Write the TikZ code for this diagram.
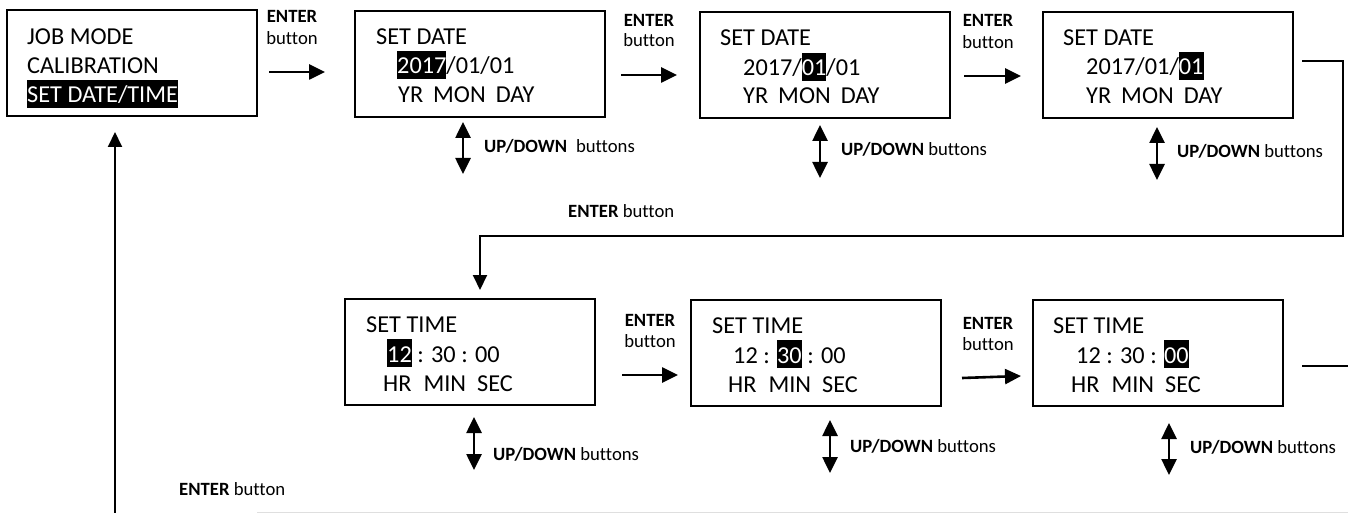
\documentclass[tikz,border=0pt]{standalone}
\usepackage{fontspec}
\setmainfont{Carlito}[Ligatures={NoCommon}]
\usetikzlibrary{arrows.meta}
\newcommand\hlbox[1]{{\setlength\fboxsep{0pt}\colorbox{black}{\textcolor{white}{\rule[-5pt]{0pt}{28pt}#1}}}}
\begin{document}
\begin{tikzpicture}[x=1pt,y=-1pt,
  box/.style={draw, line width=1.8pt, minimum width=250pt, minimum height=106pt, inner sep=0pt},
  lcd/.style={anchor=base west, inner sep=0pt, font=\fontsize{24.3}{28}\selectfont},
  lbl/.style={anchor=base, inner sep=0pt, font=\fontsize{18.7}{21}\selectfont},
  lbll/.style={lbl, anchor=base west},
  arr/.style={line width=2.6pt, -{Triangle[length=16pt,width=15pt]}},
  updown/.style={line width=2.6pt, {Triangle[length=16pt,width=15pt]}-{Triangle[length=16pt,width=15pt]}},
  conn/.style={line width=2pt},
  connarr/.style={line width=2pt, -{Triangle[length=15pt,width=14pt]}}]
\useasboundingbox (0,0) rectangle (1348,513);
% faint bottom line
\draw[gray!25, line width=1pt] (257,512) -- (1348,512);
% boxes
\node[box] (b0) at (132,63) {};
\node[box] (b1) at (480,64) {};
\node[box] (b2) at (825,65) {};
\node[box] (b3) at (1168,65) {};
\node[box] (b4) at (470,352) {};
\node[box] (b5) at (816,353) {};
\node[box] (b6) at (1158,353) {};
% box texts
\node[lcd] (t0a) at (27,45) {JOB MODE};
\node[lcd] (t0b) at (27,74) {CALIBRATION};
\node[lcd] (t0c) at (27,103) {\hlbox{SET DATE/TIME}};
\node[lcd] (t1a) at (376,45) {SET DATE};
\node[lcd] (t1b) at (397,74) {\hlbox{2017}/01/01};
\node[lcd] (t1c) at (398,103) {YR\hspace{10pt}MON\hspace{10pt}DAY};
\node[lcd] (t2a) at (720,46) {SET DATE};
\node[lcd] (t2b) at (743,76) {2017/\hlbox{01}/01};
\node[lcd] (t2c) at (743,104) {YR\hspace{10pt}MON\hspace{10pt}DAY};
\node[lcd] (t3a) at (1063,46) {SET DATE};
\node[lcd] (t3b) at (1086,75) {2017/01/\hlbox{01}};
\node[lcd] (t3c) at (1086,104) {YR\hspace{10pt}MON\hspace{10pt}DAY};
\node[lcd] (t4a) at (366,332) {SET TIME};
\node[lcd] (t4b) at (387,362) {\hlbox{12} : 30 : 00};
\node[lcd] (t4c) at (383,391) {HR\hspace{12pt}MIN\hspace{11pt}SEC};
\node[lcd] (t5a) at (712,333) {SET TIME};
\node[lcd] (t5b) at (733,363) {12 : \hlbox{30} : 00};
\node[lcd] (t5c) at (728,392) {HR\hspace{12pt}MIN\hspace{11pt}SEC};
\node[lcd] (t6a) at (1053,333) {SET TIME};
\node[lcd] (t6b) at (1076,363) {12 : 30 : \hlbox{00}};
\node[lcd] (t6c) at (1071,392) {HR\hspace{12pt}MIN\hspace{11pt}SEC};
% ENTER labels
\node[lbl] (e1a) at (292,23) {\textbf{ENTER}};
\node[lbl] (e1b) at (292,45) {button};
\node[lbl] (e2a) at (649,27) {\textbf{ENTER}};
\node[lbl] (e2b) at (649,47) {button};
\node[lbl] (e3a) at (988,27) {\textbf{ENTER}};
\node[lbl] (e3b) at (988,49) {button};
\node[lbl] (e4a) at (650,326) {\textbf{ENTER}};
\node[lbl] (e4b) at (650,347) {button};
\node[lbl] (e5a) at (988,329) {\textbf{ENTER}};
\node[lbl] (e5b) at (988,350) {button};
\node[lbll] (em) at (568,217) {\textbf{ENTER} button};
\node[lbll] (eb) at (179,495) {\textbf{ENTER} button};
% UP/DOWN labels
\node[lbll] (u1) at (484,153) {\textbf{UP/DOWN}\hspace{9pt}buttons};
\node[lbll] (u2) at (841,156) {\textbf{UP/DOWN} buttons};
\node[lbll] (u3) at (1177,158) {\textbf{UP/DOWN} buttons};
\node[lbll] (u4) at (493,460) {\textbf{UP/DOWN} buttons};
\node[lbll] (u5) at (850,452) {\textbf{UP/DOWN} buttons};
\node[lbll] (u6) at (1190,453) {\textbf{UP/DOWN} buttons};
% arrow end points
\coordinate (a1s) at (269,72);  \coordinate (a1e) at (325,72);
\coordinate (a2s) at (621,75);  \coordinate (a2e) at (677,75);
\coordinate (a3s) at (964,76);  \coordinate (a3e) at (1021,76);
\coordinate (a4s) at (622,375); \coordinate (a4e) at (678,375);
\coordinate (a5s) at (962,378); \coordinate (a5e) at (1021,376);
\draw[arr] (a1s) -- (a1e);
\draw[arr] (a2s) -- (a2e);
\draw[arr] (a3s) -- (a3e);
\draw[arr] (a4s) -- (a4e);
\draw[arr] (a5s) -- (a5e);
% up/down arrows
\coordinate (d1a) at (463,122);  \coordinate (d1b) at (463,174);
\coordinate (d2a) at (820,125);  \coordinate (d2b) at (820,178);
\coordinate (d3a) at (1157,127); \coordinate (d3b) at (1157,180);
\coordinate (d4a) at (474,417);  \coordinate (d4b) at (474,470);
\coordinate (d5a) at (830,420);  \coordinate (d5b) at (830,473);
\coordinate (d6a) at (1169,423); \coordinate (d6b) at (1169,475);
\draw[updown] (d1a) -- (d1b);
\draw[updown] (d2a) -- (d2b);
\draw[updown] (d3a) -- (d3b);
\draw[updown] (d4a) -- (d4b);
\draw[updown] (d5a) -- (d5b);
\draw[updown] (d6a) -- (d6b);
% return connectors
\coordinate (c1a) at (1302,61);
\coordinate (c1b) at (1343,236);
\coordinate (c1c) at (480,290);
\draw[connarr] (c1a) -| (c1b) -| (c1c);
\coordinate (c2a) at (1302,366);
\coordinate (c2b) at (1348,366);
\draw[conn] (c2a) -- (c2b);
\coordinate (c3a) at (115,513);
\coordinate (c3b) at (115,132);
\draw[connarr] (c3a) -- (c3b);
\end{tikzpicture}
\end{document}
